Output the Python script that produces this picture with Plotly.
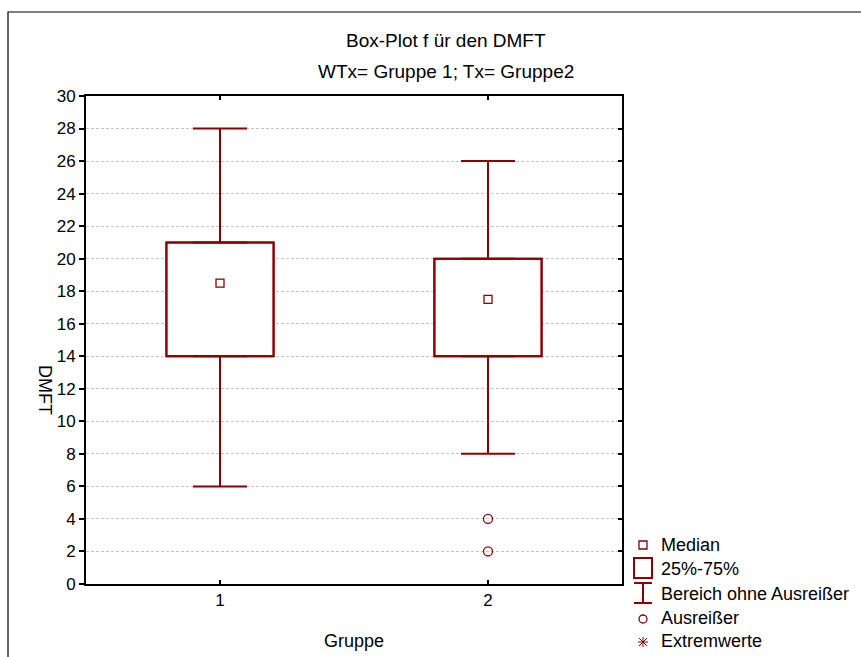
import plotly.graph_objects as go

# ---- data ----
groups = [1, 2]
group_labels = ["1", "2"]
q1 = [14, 14]
q3 = [21, 20]
medians = [18.5, 17.5]
whisker_low = [6, 8]
whisker_high = [28, 26]
outlier_x = [2, 2]
outlier_y = [4, 2]

title1 = "Box-Plot f ür den DMFT"
title2 = "WTx= Gruppe 1; Tx= Gruppe2"
xlabel = "Gruppe"
ylabel = "DMFT"
legend_labels = ["Median", "25%-75%", "Bereich ohne Ausreißer", "Ausreißer", "Extremwerte"]

# ---- style ----
RED = "#8b0000"
FONT = "Liberation Sans, Arial, sans-serif"
W, H = 861, 657
L, R, T, B = 86, 239, 96, 73
PW, PH = W - L - R, H - T - B

def px_x(p):
    return (p - L) / PW

def px_y(p):
    return (H - B - p) / PH

fig = go.Figure()

# boxes (25%-75%)
fig.add_trace(go.Bar(
    x=groups, y=[a - b for a, b in zip(q3, q1)], base=q1, width=0.4,
    marker=dict(color="white", line=dict(color=RED, width=2)),
    showlegend=False, hoverinfo="skip"))

# upper whiskers
fig.add_trace(go.Scatter(
    x=groups, y=q3, mode="markers", marker=dict(size=1, color="rgba(0,0,0,0)"),
    error_y=dict(type="data", symmetric=False,
                 array=[h - q for h, q in zip(whisker_high, q3)],
                 arrayminus=[0, 0], color=RED, thickness=2, width=27),
    showlegend=False, hoverinfo="skip"))

# lower whiskers
fig.add_trace(go.Scatter(
    x=groups, y=q1, mode="markers", marker=dict(size=1, color="rgba(0,0,0,0)"),
    error_y=dict(type="data", symmetric=False,
                 array=[0, 0],
                 arrayminus=[q - l for q, l in zip(q1, whisker_low)],
                 color=RED, thickness=2, width=27),
    showlegend=False, hoverinfo="skip"))

# redraw box outline on top
fig.add_trace(go.Bar(
    x=groups, y=[a - b for a, b in zip(q3, q1)], base=q1, width=0.4,
    marker=dict(color="rgba(0,0,0,0)", line=dict(color=RED, width=2)),
    showlegend=False, hoverinfo="skip"))

# medians
fig.add_trace(go.Scatter(
    x=groups, y=medians, mode="markers",
    marker=dict(symbol="square-open", size=8, color=RED, line=dict(width=1.3)),
    showlegend=False))

# outliers
fig.add_trace(go.Scatter(
    x=outlier_x, y=outlier_y, mode="markers",
    marker=dict(symbol="circle-open", size=9, color=RED, line=dict(width=1.3)),
    showlegend=False))

# dummy trace on right axis for inside ticks
fig.add_trace(go.Scatter(x=[None], y=[None], yaxis="y2", showlegend=False, hoverinfo="skip"))

fig.update_layout(
    width=W, height=H,
    margin=dict(l=L, r=R, t=T, b=B),
    paper_bgcolor="white", plot_bgcolor="white",
    font=dict(family=FONT, size=17, color="black"),
    barmode="overlay",
    showlegend=False,
    xaxis=dict(range=[0.5, 2.5], tickvals=groups, ticktext=group_labels,
               showgrid=False, zeroline=False, showline=True, linecolor="black",
               linewidth=2, mirror="ticks", ticks="inside", ticklen=4,
               tickwidth=1.5, tickcolor="black", tickfont=dict(size=17)),
    yaxis=dict(range=[0, 30], dtick=2, tick0=0, showgrid=True,
               gridcolor="#c4c4c4", gridwidth=1, griddash="3px,2px",
               zeroline=False, showline=True, linecolor="black", linewidth=2,
               mirror=True, ticks="outside", ticklen=5, tickwidth=1.5,
               tickcolor="black", tickfont=dict(size=17)),
    yaxis2=dict(range=[0, 30], dtick=2, tick0=0, overlaying="y", side="right",
                anchor="x", showgrid=False, zeroline=False, showline=False,
                ticks="inside", ticklen=4, tickwidth=1.5, tickcolor="black",
                showticklabels=False),
)

shapes = []
# outer frame
shapes.append(dict(type="rect", xref="paper", yref="paper",
                   x0=px_x(8), x1=px_x(880), y0=px_y(680), y1=px_y(12),
                   line=dict(color="black", width=1.2), layer="above"))

# legend symbols
cx = px_x(643)
def anchored(kind, py, **kw):
    d = dict(type=kind, xref="paper", yref="paper", xsizemode="pixel",
             ysizemode="pixel", xanchor=cx, yanchor=px_y(py),
             line=dict(color=RED, width=kw.pop("lw", 1.3)))
    d.update(kw)
    return d

shapes.append(anchored("rect", 545, x0=-4, x1=4, y0=-4, y1=4))
shapes.append(anchored("rect", 568, x0=-9, x1=9, y0=-10, y1=10, lw=2))
shapes.append(anchored("path", 593, path="M -9 10 L 9 10 M 0 10 L 0 -10 M -9 -10 L 9 -10", lw=2))
shapes.append(anchored("circle", 619, x0=-4, x1=4, y0=-4, y1=4))
shapes.append(anchored("path", 642, path="M -5 0 L 5 0 M 0 -5 L 0 5 M -4 -4 L 4 4 M -4 4 L 4 -4", lw=1))
fig.update_layout(shapes=shapes)

annotations = [
    dict(text=title1, x=px_x(446), y=px_y(40), size=19),
    dict(text=title2, x=px_x(446), y=px_y(72), size=19),
    dict(text=xlabel, x=px_x(354), y=px_y(641)),
    dict(text=ylabel, x=px_x(45), y=px_y(390), textangle=90),
]
legend_y = [545, 569, 594, 618, 641]
for lab, py in zip(legend_labels, legend_y):
    annotations.append(dict(text=lab, x=px_x(659), y=px_y(py), xanchor="left"))
for a in annotations:
    a.setdefault("xanchor", "center")
    sz = a.pop("size", 18)
    a.update(xref="paper", yref="paper", yanchor="middle", showarrow=False,
             font=dict(family=FONT, size=sz, color="black"))
fig.update_layout(annotations=annotations)

fig.write_html("out.html")
